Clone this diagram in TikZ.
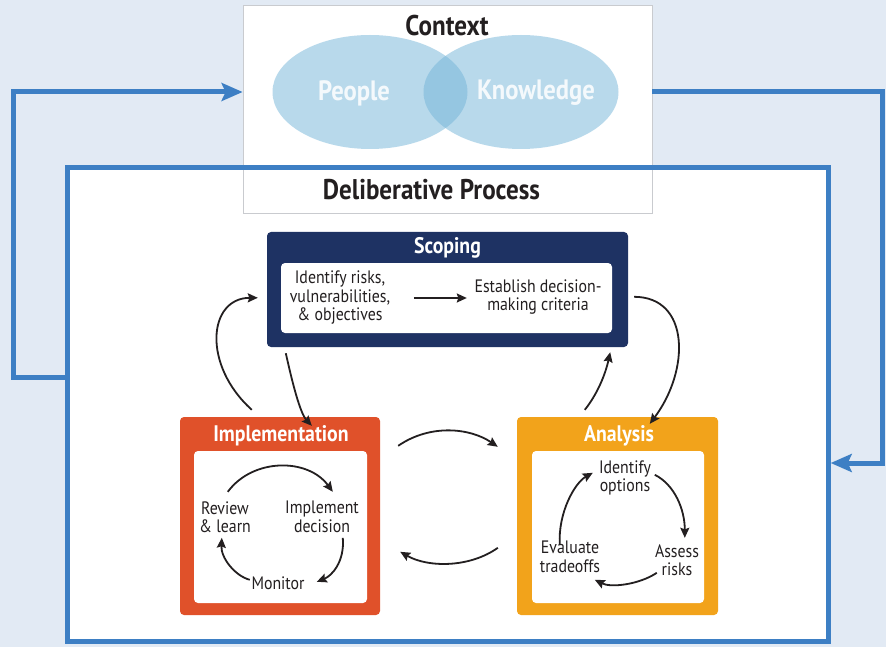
\documentclass[tikz,border=0pt]{standalone}
\usepackage{fontspec}
\setmainfont[FakeStretch=0.88]{PT Sans}
\usetikzlibrary{arrows.meta,shapes.geometric,calc}

\definecolor{bgblue}{HTML}{E2EAF4}
\definecolor{loopblue}{HTML}{3D7FC4}
\definecolor{venn}{RGB}{115,181,217}
\definecolor{navy}{HTML}{1E3263}
\definecolor{implred}{HTML}{E0512A}
\definecolor{analorange}{HTML}{F2A31B}
\definecolor{ink}{HTML}{231F20}
\definecolor{boxgray}{HTML}{C9CBCF}

\tikzset{
  loopline/.style={draw=loopblue, line width=5pt},
  looparrow/.style={loopline, -{Stealth[length=21pt,width=18pt,inset=4pt]}},
  arr/.style={draw=ink, line width=1.8pt, -{Stealth[length=10pt,width=9pt,inset=1.5pt]}},
  stagebox/.style={rectangle, rounded corners=4pt, inner sep=0pt},
  innerbox/.style={rectangle, rounded corners=4pt, fill=white, inner sep=0pt},
  stagetitle/.style={text=white, font=\bfseries\fontsize{22.5}{26}\selectfont},
  body/.style={text=ink, align=center, inner sep=0pt, font=\fontsize{18}{18.5}\selectfont},
  heading/.style={text=ink, font=\bfseries\fontsize{28.5}{31}\selectfont},
  vennset/.style={ellipse, fill=venn, fill opacity=0.5, minimum width=195pt, minimum height=114pt, inner sep=0pt},
  venntext/.style={text=white, text opacity=0.85, font=\bfseries\fontsize{28}{30}\selectfont}
}

\begin{document}
\begin{tikzpicture}[x=1pt,y=1pt]
  % page background
  \fill[bgblue] (0,0) rectangle (886,-647);
  \useasboundingbox (0,0) rectangle (886,-647);

  % deliberative process panel (fill first, frame stroked later)
  \node[rectangle, fill=white, minimum width=760pt, minimum height=473pt, inner sep=0pt]
    (delib) at (448,-404.5) {};

  % context panel
  \node[rectangle, fill=white, draw=boxgray, line width=0.8pt, minimum width=409pt,
        minimum height=208pt, inner sep=0pt] (ctx) at (447.5,-109) {};
  \node[heading] (ctxtitle) at (447,-26) {Context};

  % people / knowledge Venn diagram
  \node[vennset] (people) at (370,-92) {};
  \node[vennset] (knowledge) at (521,-92) {};
  \node[venntext] (peopletxt) at (354,-93) {People};
  \node[venntext] (knowtxt) at (536,-93) {Knowledge};

  % frame of the deliberative process panel
  \draw[loopline] (delib.north west) rectangle (delib.south east);
  \node[heading] (delibtitle) at (431.5,-190) {Deliberative Process};

  % feedback loops between context and process
  \coordinate (fbR) at (882,-463);
  \coordinate (fbL) at (13,-377);
  \draw[looparrow, shorten >=2.5pt] (ctx.east |- knowledge) -| (fbR) -- (delib.east |- fbR);
  \draw[looparrow] (delib.west |- fbL) -- (fbL) |- (ctx.west |- people);

  % Scoping
  \node[stagebox, fill=navy, minimum width=361pt, minimum height=115pt] (scoping) at (447.5,-289.5) {};
  \node[stagetitle] (scopetitle) at (447.5,-248) {Scoping};
  \node[innerbox, minimum width=331pt, minimum height=70pt] (scopein) at (446.5,-298) {};
  \node[body] (idr) at (340,-298) {Identify risks,\\vulnerabilities,\\\& objectives};
  \node[body] (est) at (538,-297) {Establish decision-\\making criteria};
  \draw[arr] ([xshift=133pt]scopein.west) -- ([xshift=186pt]scopein.west);

  % Implementation
  \node[stagebox, fill=implred, minimum width=200pt, minimum height=198pt] (impl) at (280,-516) {};
  \node[stagetitle] (impltitle) at (281,-436) {Implementation};
  \node[innerbox, minimum width=173pt, minimum height=152pt] (implin) at (280.5,-527) {};
  \node[body] (rev) at (225,-517) {Review\\\& learn};
  \node[body] (impd) at (322,-517) {Implement\\decision};
  \node[body] (mon) at (278,-583) {Monitor};

  % Analysis
  \node[stagebox, fill=analorange, minimum width=201pt, minimum height=198pt] (anal) at (617.5,-516) {};
  \node[stagetitle] (analtitle) at (619,-436) {Analysis};
  \node[innerbox, minimum width=172pt, minimum height=152pt] (analin) at (618,-527) {};
  \node[body] (idop) at (625,-478) {Identify\\options};
  \node[body] (asr) at (677,-560) {Assess\\risks};
  \node[body] (evt) at (570,-557) {Evaluate\\tradeoffs};

  % implementation cycle: review -> implement -> monitor -> review
  \draw[arr] ([shift={(34,-41)}]implin.north west) .. controls +(25,34) and +(-25,34) .. ([shift={(139,-41)}]implin.north west);
  \draw[arr] ([shift={(149,-87)}]implin.north west) .. controls +(2,-24) and +(15,6) .. ([shift={(123,-131)}]implin.north west);
  \draw[arr] ([shift={(56,-129)}]implin.north west) .. controls +(-15,4) and +(-1,-20) .. ([shift={(28,-87)}]implin.north west);

  % analysis cycle: options -> risks -> tradeoffs -> options
  \draw[arr] ([shift={(28,-94)}]analin.north west) .. controls +(-2,32) and +(-18,-10) .. ([shift={(61,-22)}]analin.north west);
  \draw[arr] ([shift={(123,-24)}]analin.north west) .. controls +(20,-10) and +(0,28) .. ([shift={(153,-87)}]analin.north west);
  \draw[arr] ([shift={(125,-122)}]analin.north west) .. controls +(-18,-12) and +(16,-8) .. ([shift={(63,-129)}]analin.north west);

  % exchange between implementation and analysis
  \draw[arr] ([shift={(18,-29)}]impl.north east) .. controls +(32,22) and +(-28,19) .. ([shift={(-19,-30)}]anal.north west);
  \draw[arr] ([shift={(-19,-131)}]anal.north west) .. controls +(-28,-20) and +(28,-16) .. ([shift={(20,-135)}]impl.north east);

  % exchange with scoping
  \draw[arr] ([shift={(72,7)}]impl.north west) .. controls (202,-365) and (208,-298) .. ([shift={(-9,-66)}]scoping.north west);
  \draw[arr] ([shift={(19,-6)}]scoping.south west) .. controls +(6,-27) and +(-12,13) .. ([shift={(132,-9)}]impl.north west);
  \draw[arr] ([shift={(68,7)}]anal.north west) .. controls +(12,15) and +(-5,-23) .. ([shift={(-18,-5)}]scoping.south east);
  \draw[arr] ([shift={(6,-65)}]scoping.north east) .. controls (690,-297) and (690,-370) .. ([shift={(133,-7)}]anal.north west);
\end{tikzpicture}
\end{document}
